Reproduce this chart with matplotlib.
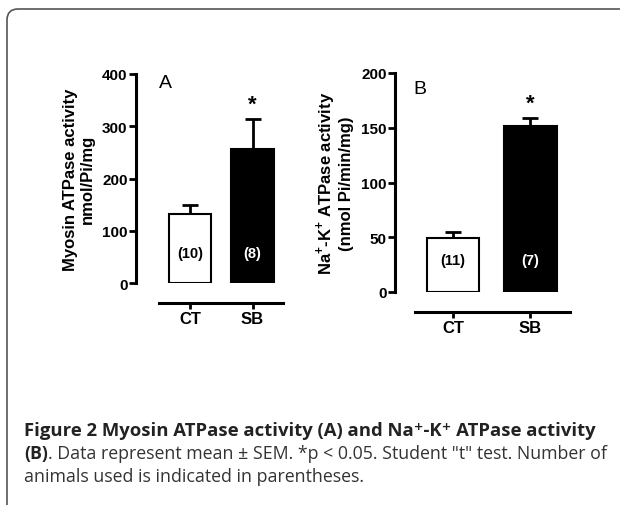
import numpy as np
import matplotlib
matplotlib.use('Agg')
import matplotlib.pyplot as plt
from matplotlib.patches import FancyBboxPatch

plt.rcParams['font.family'] = ['Liberation Sans', 'DejaVu Sans']
plt.rcParams['mathtext.fontset'] = 'custom'
plt.rcParams['mathtext.rm'] = 'Liberation Sans'
plt.rcParams['mathtext.bf'] = 'Liberation Sans:bold'

# -- data
groups = ['CT', 'SB']
myosin_mean = [133, 257]
myosin_sem = [16, 57]
myosin_n = ['(10)', '(8)']
nak_mean = [49.6, 152]
nak_sem = [5.0, 7.0]
nak_n = ['(11)', '(7)']

W, H = 620, 506
fig = plt.figure(figsize=(W / 100, H / 100), dpi=100)


def px_axes(left, top, right, bottom):
    return fig.add_axes([left / W, 1 - bottom / H, (right - left) / W, (bottom - top) / H])


def panel(ax, means, sems, ns, ymax, yticks, xlim, xbound, ylabel, letter, letter_xy):
    x = np.arange(len(groups))
    ax.bar(x, means, width=0.68, color=['white', 'black'], edgecolor='black',
           linewidth=1.5, zorder=2)
    ax.errorbar(x, means, yerr=[np.zeros(len(sems)), sems], fmt='none',
                ecolor='black', elinewidth=2, capsize=6, capthick=2, zorder=1)
    for xi, lab, col in zip(x, ns, ['black', 'white']):
        ax.text(xi, ymax * 0.145, lab, ha='center', va='center', color=col,
                fontsize=10.5, fontweight='bold')
    for xi, m, s in zip(x, means, sems):
        if xi == 1:
            ax.text(xi, m + s + ymax * 0.02, '*', ha='center', va='bottom',
                    fontsize=16, fontweight='bold')
    ax.set_ylim(0, ymax)
    ax.set_xlim(*xlim)
    ax.set_yticks(yticks)
    ax.set_xticks(x)
    ax.set_xticklabels(groups)
    for s in ['top', 'right']:
        ax.spines[s].set_visible(False)
    ax.spines['left'].set_linewidth(2.2)
    ax.spines['left'].set_bounds(0, ymax)
    ax.spines['bottom'].set_linewidth(2.2)
    ax.spines['bottom'].set_position(('outward', 14.5))
    ax.spines['bottom'].set_bounds(*xbound)
    ax.tick_params(axis='y', length=5, width=2, pad=1, labelsize=11)
    ax.tick_params(axis='x', length=4, width=2, pad=2, labelsize=12)
    for t in ax.get_yticklabels() + ax.get_xticklabels():
        t.set_fontweight('bold')
    ax.set_ylabel(ylabel, fontsize=12, fontweight='bold', linespacing=1.2, labelpad=5)
    ax.text(letter_xy[0], letter_xy[1], letter, transform=ax.transAxes,
            fontsize=14, ha='left', va='center')


axA = px_axes(136, 75, 290, 284)
panel(axA, myosin_mean, myosin_sem, myosin_n, 400, [0, 100, 200, 300, 400],
      (-0.864, 1.6), (-0.5, 1.49),
      'Myosin ATPase activity\nnmol/Pi/mg', 'A', (0.15, 0.96))

axB = px_axes(395, 74, 577, 293)
panel(axB, nak_mean, nak_sem, nak_n, 200, [0, 50, 100, 150, 200],
      (-0.748, 1.6), (-0.49, 1.51),
      'Na$^{\\mathbf{+}}$-K$^{\\mathbf{+}}$ ATPase activity\n(nmol Pi/min/mg)',
      'B', (0.10, 0.93))

# -- frame
frame = FancyBboxPatch((7 / 100, -0.5), 7.0, (H - 10) / 100 + 0.5,
                       boxstyle='round,pad=0,rounding_size=0.11',
                       transform=fig.dpi_scale_trans, fill=False,
                       edgecolor='#555555', linewidth=1.2, clip_on=False)
fig.add_artist(frame)

# -- caption
cap_font = ['Open Sans', 'DejaVu Sans']
fig.text(24 / W, 1 - 431 / H,
         'Figure 2 Myosin ATPase activity (A) and Na\u207a-K\u207a ATPase activity',
         fontsize=13.3, fontweight='bold', family=cap_font, va='center', color='#222222')
b_txt = fig.text(24 / W, 1 - 454 / H, '(B)', fontsize=12.8, fontweight='bold',
                 family=cap_font, va='center', color='#222222')
fig.canvas.draw()
bx = b_txt.get_window_extent().x1
fig.text(bx / W, 1 - 454 / H,
         '. Data represent mean \u00b1 SEM. *p < 0.05. Student "t" test. Number of',
         fontsize=12.8, family=cap_font, va='center', color='#333333')
fig.text(24 / W, 1 - 477 / H, 'animals used is indicated in parentheses.',
         fontsize=12.8, family=cap_font, va='center', color='#333333')

fig.savefig('out.png', dpi=100)
